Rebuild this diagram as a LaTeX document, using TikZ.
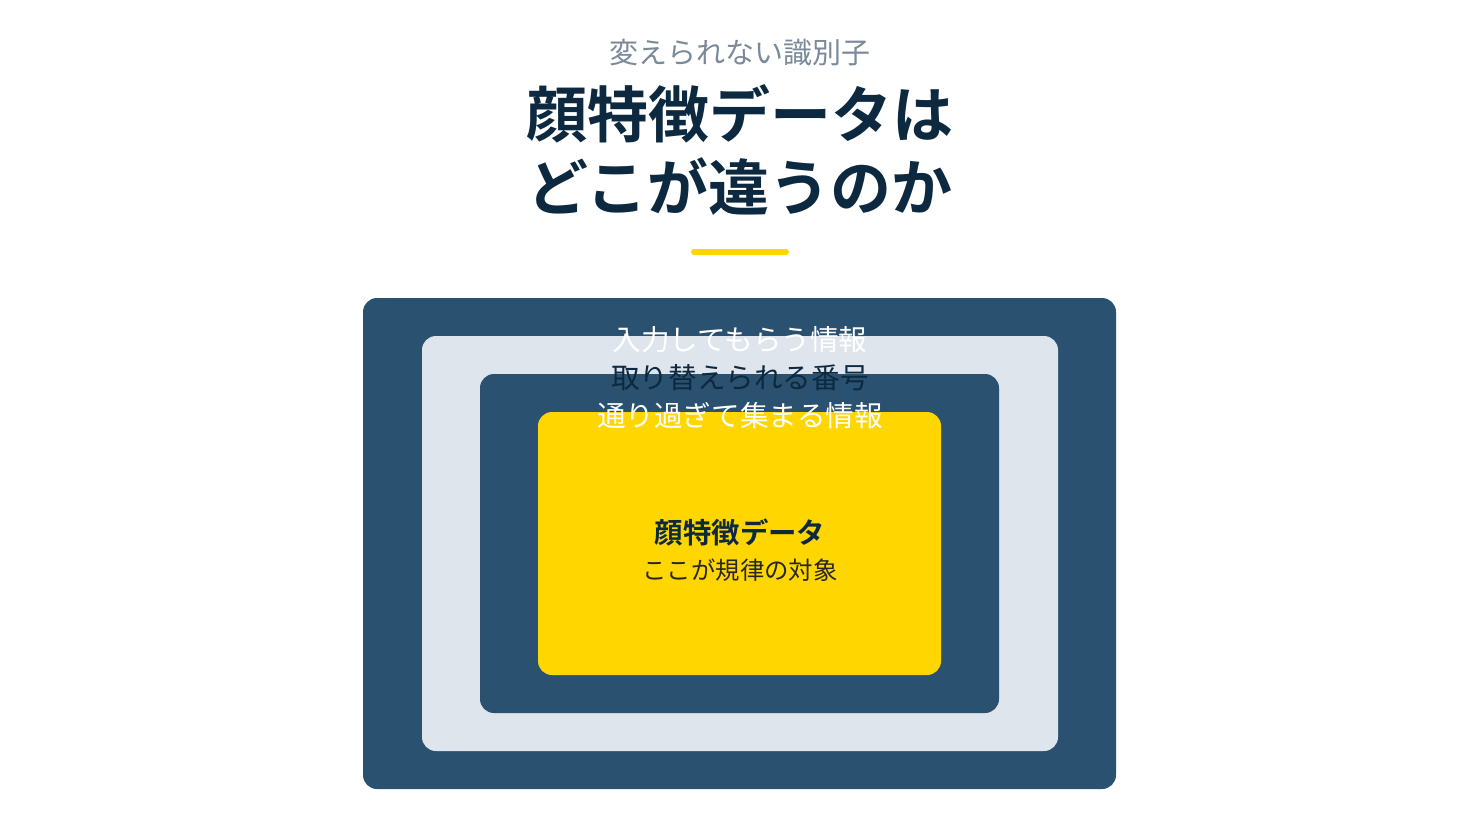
\documentclass[tikz,border=0pt]{standalone}
\usepackage{fontspec}
\setmainfont{Noto Sans CJK JP}[BoldFont={Noto Sans CJK JP Bold}]
\usetikzlibrary{positioning}

\definecolor{navy}{RGB}{13,41,64}
\definecolor{slate}{RGB}{42,81,112}
\definecolor{mist}{RGB}{223,229,237}
\definecolor{gold}{RGB}{255,214,0}
\definecolor{subgray}{RGB}{122,138,153}

\tikzset{
  layer/.style={rounded corners=7pt, inner sep=0pt, anchor=center},
  lbl/.style={font=\fontsize{14.3}{16}\selectfont, inner sep=0pt}
}

\begin{document}
\begin{tikzpicture}[x=0.5pt,y=-0.5pt]

  \useasboundingbox[fill=white] (0,0) rectangle (1480,832);

  \node[font=\fontsize{14.5}{17}\selectfont, text=subgray] (kicker) at (740,53) {変えられない識別子};
  \node[font=\fontsize{30.5}{36.5}\selectfont\bfseries, text=navy, align=center] (title) at (740,150) {顔特徴データは\\どこが違うのか};

  \coordinate (bar_l) at (694,251.5);
  \coordinate (bar_r) at (786,251.5);
  \draw[gold, line width=3pt, line cap=round] (bar_l) -- (bar_r);

  \node[layer, fill=slate, minimum width=376.5pt, minimum height=245.5pt] (outer) at (739.5,543.5) {};
  \node[layer, fill=mist, minimum width=318pt, minimum height=207.5pt] (issued) at (740,543.5) {};
  \node[layer, fill=slate, minimum width=259.5pt, minimum height=169.5pt] (passing) at (739.5,543.5) {};
  \node[layer, fill=gold, minimum width=201.5pt, minimum height=131.5pt] (core) at (739.5,543.5) {};

  \node[lbl, text=white] (outer_lbl) at (740,340) {入力してもらう情報};
  \node[lbl, text=navy] (issued_lbl) at (740,378) {取り替えられる番号};
  \node[lbl, text=white] (passing_lbl) at (740,416) {通り過ぎて集まる情報};

  \node[font=\fontsize{14.2}{16}\selectfont\bfseries, text=navy, inner sep=0pt] (core_lbl) at (740,532) {顔特徴データ};
  \node[font=\fontsize{12.2}{14}\selectfont, text=black!85, inner sep=0pt, below=6pt of core_lbl] (core_sub) {ここが規律の対象};

\end{tikzpicture}
\end{document}
